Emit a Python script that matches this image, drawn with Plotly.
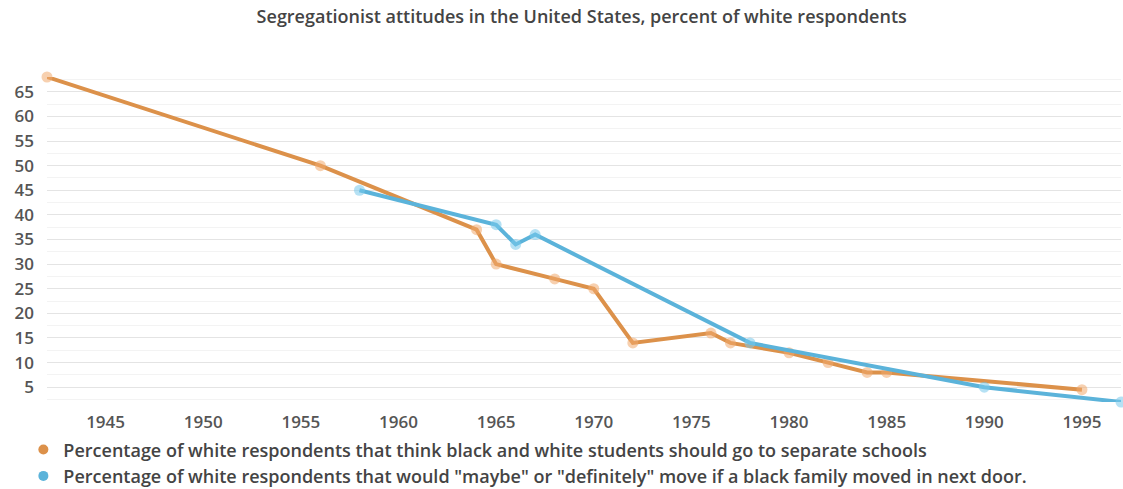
import plotly.graph_objects as go

# Separate schools (white respondents, %)
school_years = [1942, 1956, 1964, 1965, 1968, 1970, 1972, 1976, 1977, 1980, 1982, 1984, 1985, 1995]
school_pct = [68, 50, 37, 30, 27, 25, 14, 16, 14, 12, 10, 8, 8, 4.5]

# Would move if a black family moved next door (white respondents, %)
move_years = [1958, 1965, 1966, 1967, 1978, 1990, 1997]
move_pct = [45, 38, 34, 36, 14, 5, 2]

year_ticks = [1945, 1950, 1955, 1960, 1965, 1970, 1975, 1980, 1985, 1990, 1995]
pct_ticks = [5, 10, 15, 20, 25, 30, 35, 40, 45, 50, 55, 60, 65]

ORANGE = "#DC914A"
BLUE = "#5BB3DA"
school_label = "Percentage of white respondents that think black and white students should go to separate schools"
move_label = 'Percentage of white respondents that would "maybe" or "definitely" move if a black family moved in next door.'

fig = go.Figure()

fig.add_trace(go.Scatter(
    x=school_years, y=school_pct, mode="lines+markers",
    line=dict(color=ORANGE, width=4),
    marker=dict(color="rgba(240,170,110,0.55)", size=11),
    showlegend=False, hoverinfo="x+y", cliponaxis=False,
))
fig.add_trace(go.Scatter(
    x=move_years, y=move_pct, mode="lines+markers",
    line=dict(color=BLUE, width=4),
    marker=dict(color="rgba(120,200,235,0.55)", size=11),
    showlegend=False, hoverinfo="x+y", cliponaxis=False,
))

# Legend entries shown as plain dots
fig.add_trace(go.Scatter(x=[None], y=[None], mode="markers", name=school_label,
                         marker=dict(color=ORANGE, size=10)))
fig.add_trace(go.Scatter(x=[None], y=[None], mode="markers", name=move_label,
                         marker=dict(color=BLUE, size=10)))

fig.update_layout(
    width=1123, height=489,
    margin=dict(l=47, r=2, t=77, b=87, autoexpand=False),
    paper_bgcolor="white", plot_bgcolor="white",
    font=dict(family="Open Sans, sans-serif", color="#444"),
    title=dict(
        text="Segregationist attitudes in the United States, percent of white respondents",
        x=0.518, xanchor="center", y=0.965, yanchor="middle",
        font=dict(size=18, color="#444", weight=600),
    ),
    xaxis=dict(
        range=[1942, 1997], tickvals=year_ticks, ticktext=[str(t) for t in year_ticks],
        showgrid=False, zeroline=False, showline=False, ticks="",
        ticklabelstandoff=8,
        tickfont=dict(size=17, color="#555", weight=600),
    ),
    yaxis=dict(
        range=[2, 68], tickvals=pct_ticks, ticktext=[str(t) for t in pct_ticks],
        showgrid=True, gridcolor="#e4e4e4", gridwidth=1,
        minor=dict(dtick=2.5, tick0=0, showgrid=True, gridcolor="#f3f3f3", gridwidth=1),
        zeroline=False, showline=False, ticks="", ticklabelstandoff=12,
        tickfont=dict(size=17, color="#555", weight=600),
    ),
    legend=dict(
        x=-0.022, xanchor="left", yref="container", y=0.118, yanchor="top",
        orientation="v", font=dict(size=18, color="#444", weight=600),
        bgcolor="rgba(0,0,0,0)", itemclick=False,
    ),
)

fig.write_html("out.html")
